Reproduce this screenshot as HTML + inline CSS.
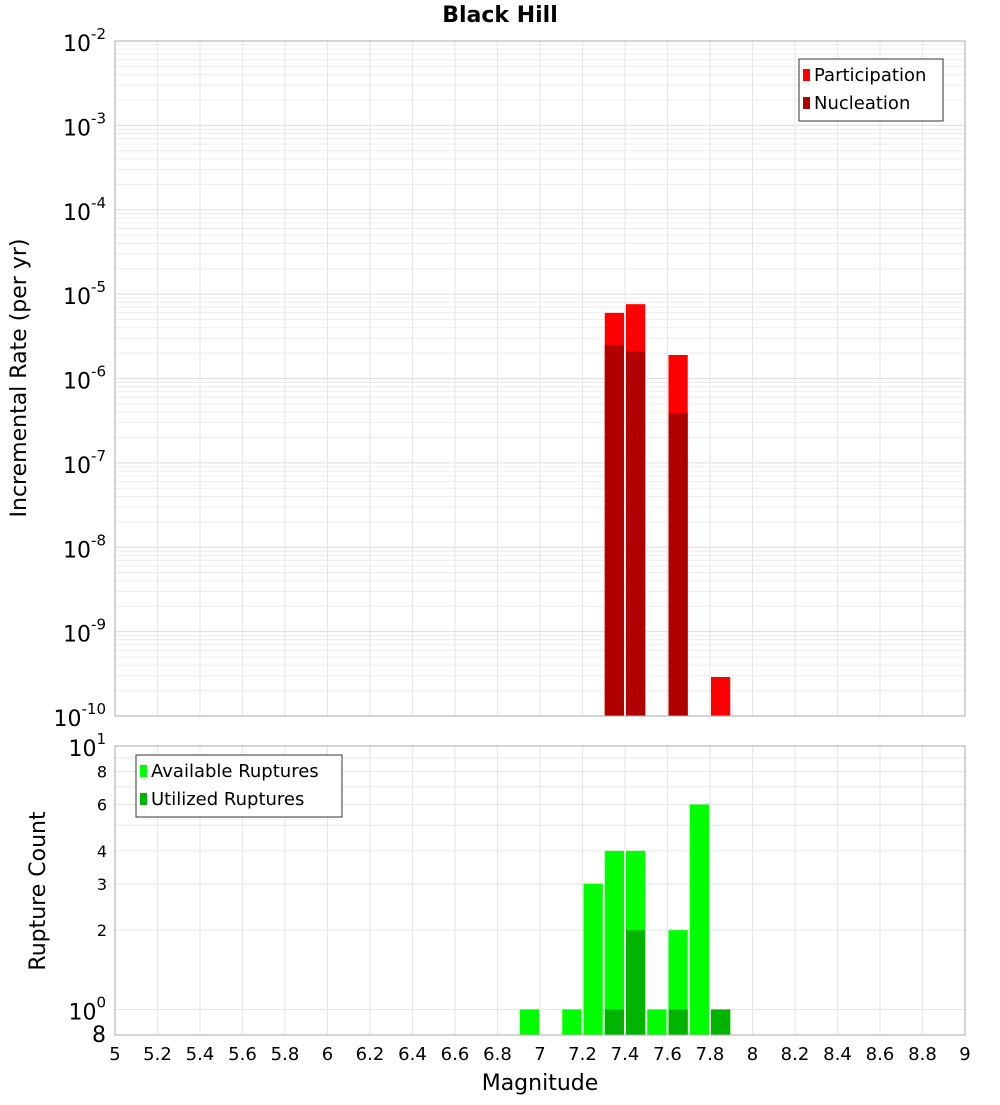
<!DOCTYPE html>
<html><head><meta charset="utf-8"><style>
body{margin:0;background:#fff;font-family:"Liberation Sans","DejaVu Sans",sans-serif}
svg text{font-family:"DejaVu Sans","Liberation Sans",sans-serif}
</style></head><body>
<svg id="c" width="1000" height="1100" xmlns="http://www.w3.org/2000/svg"></svg>
<script>
const magBins=[7.35,7.45,7.65,7.85];
const participation=[6e-6,7.6e-6,1.9e-6,2.9e-10];
const nucleation=[2.5e-6,2.1e-6,3.9e-7,0];
const countBins=[6.95,7.15,7.25,7.35,7.45,7.55,7.65,7.75,7.85];
const available=[1,1,3,4,4,1,2,6,1];
const utilBins=[7.35,7.45,7.65,7.85];
const utilized=[1,2,1,1];
const xTicks=[5,5.2,5.4,5.6,5.8,6,6.2,6.4,6.6,6.8,7,7.2,7.4,7.6,7.8,8,8.2,8.4,8.6,8.8,9];
const topExps=[-2,-3,-4,-5,-6,-7,-8,-9,-10];
const botTicks=[8,6,4,3,2];

const NS="http://www.w3.org/2000/svg",svg=document.getElementById('c');
function el(t,a,p){const e=document.createElementNS(NS,t);for(const k in a)e.setAttribute(k,a[k]);(p||svg).appendChild(e);return e;}
const X0=115,X1=965,T0=41,T1=716,B0=746,B1=1035;
const xs=m=>X0+(m-5)/4*(X1-X0);
const yT=v=>T0+(-2-Math.log10(v))/8*(T1-T0);
const yB=v=>B1-(Math.log10(v)-Math.log10(0.8))/(1-Math.log10(0.8))*(B1-B0);
const bw=(X1-X0)/40;

// grids
const g=el('g',{});
for(let e=-10;e<-2;e++)for(let k=1;k<10;k++){const y=yT(k*Math.pow(10,e));el('line',{x1:X0,x2:X1,y1:y,y2:y,stroke:k==1?'#dcdcdc':'#ececec','stroke-width':1},g);}
for(const t of xTicks){const x=xs(t);el('line',{x1:x,x2:x,y1:T0,y2:T1,stroke:'#e6e6e6'},g);el('line',{x1:x,x2:x,y1:B0,y2:B1,stroke:'#e6e6e6'},g);}
[0.8,1,2,3,4,5,6,7,8,9,10].forEach(v=>{const y=yB(v);el('line',{x1:X0,x2:X1,y1:y,y2:y,stroke:'#e6e6e6'},g);});

// top bars
magBins.forEach((m,i)=>{
 const p=el('rect',{x:xs(m)-bw/2+1,y:yT(participation[i]),width:bw-2,height:T1-yT(participation[i]),fill:'#ff0000'});
 
 if(nucleation[i]>0){const n=el('rect',{x:xs(m)-bw/2+1,y:yT(nucleation[i]),width:bw-2,height:T1-yT(nucleation[i]),fill:'#b00000'});
 }
});
countBins.forEach((m,i)=>{
 const r=el('rect',{x:xs(m)-bw/2+1,y:yB(available[i]),width:bw-2,height:B1-yB(available[i]),fill:'#00ff00'});
 
});
utilBins.forEach((m,i)=>{
 const r=el('rect',{x:xs(m)-bw/2+1,y:yB(utilized[i]),width:bw-2,height:B1-yB(utilized[i]),fill:'#00b400'});
 
});
// frames
el('rect',{x:X0,y:T0,width:X1-X0,height:T1-T0,fill:'none',stroke:'#aaa'});
el('rect',{x:X0,y:B0,width:X1-X0,height:B1-B0,fill:'none',stroke:'#aaa'});

// title
let t=el('text',{x:500,y:22,'text-anchor':'middle','font-size':22,'font-weight':'bold'});t.textContent='Black Hill';


// top y ticks
topExps.forEach(e=>{const y=yT(Math.pow(10,e));
 const tx=el('text',{x:106,y:y+10,'text-anchor':'end','font-size':22});
 
 const a=el('tspan',{},tx);a.textContent='10';const b=el('tspan',{dy:-12,'font-size':15},tx);b.textContent=String(e);});
// bottom y ticks
[[10,'1'],[1,'0']].forEach(([v,e])=>{const y=yB(v);
 const tx=el('text',{x:106,y:y+10,'text-anchor':'end','font-size':22});
 
 const a=el('tspan',{},tx);a.textContent='10';const b=el('tspan',{dy:-12,'font-size':15},tx);b.textContent=e;});
botTicks.forEach(v=>{const tx=el('text',{x:107,y:yB(v)+6,'text-anchor':'end','font-size':16});tx.textContent=v;
 });
t=el('text',{x:106,y:1042,'text-anchor':'end','font-size':22});t.textContent='8';
// x ticks
xTicks.forEach(v=>{const tx=el('text',{x:xs(v),y:1060,'text-anchor':'middle','font-size':18});tx.textContent=String(v);
 });
t=el('text',{x:540,y:1090,'text-anchor':'middle','font-size':22});t.textContent='Magnitude';

t=el('text',{x:0,y:0,'text-anchor':'middle','font-size':22,transform:'translate(26,378) rotate(-90)'});t.textContent='Incremental Rate (per yr)';

t=el('text',{x:0,y:0,'text-anchor':'middle','font-size':22,transform:'translate(45,891) rotate(-90)'});t.textContent='Rupture Count';


// legends
function legend(x,y,w,items,name){const lg=el('g',{});
 el('rect',{x:x,y:y,width:w,height:items.length*28+6,fill:'#fff',stroke:'#333'},lg);
 items.forEach(([c,l],i)=>{el('rect',{x:x+4,y:y+10+i*28,width:7,height:12,fill:c},lg);
 const tx=el('text',{x:x+15,y:y+22+i*28,'font-size':18},lg);tx.textContent=l;});}
legend(799,59,144,[['#ff0000','Participation'],['#b00000','Nucleation']],'rate-legend');
legend(136,755,206,[['#00ff00','Available Ruptures'],['#00b400','Utilized Ruptures']],'count-legend');
</script>
</body></html>
